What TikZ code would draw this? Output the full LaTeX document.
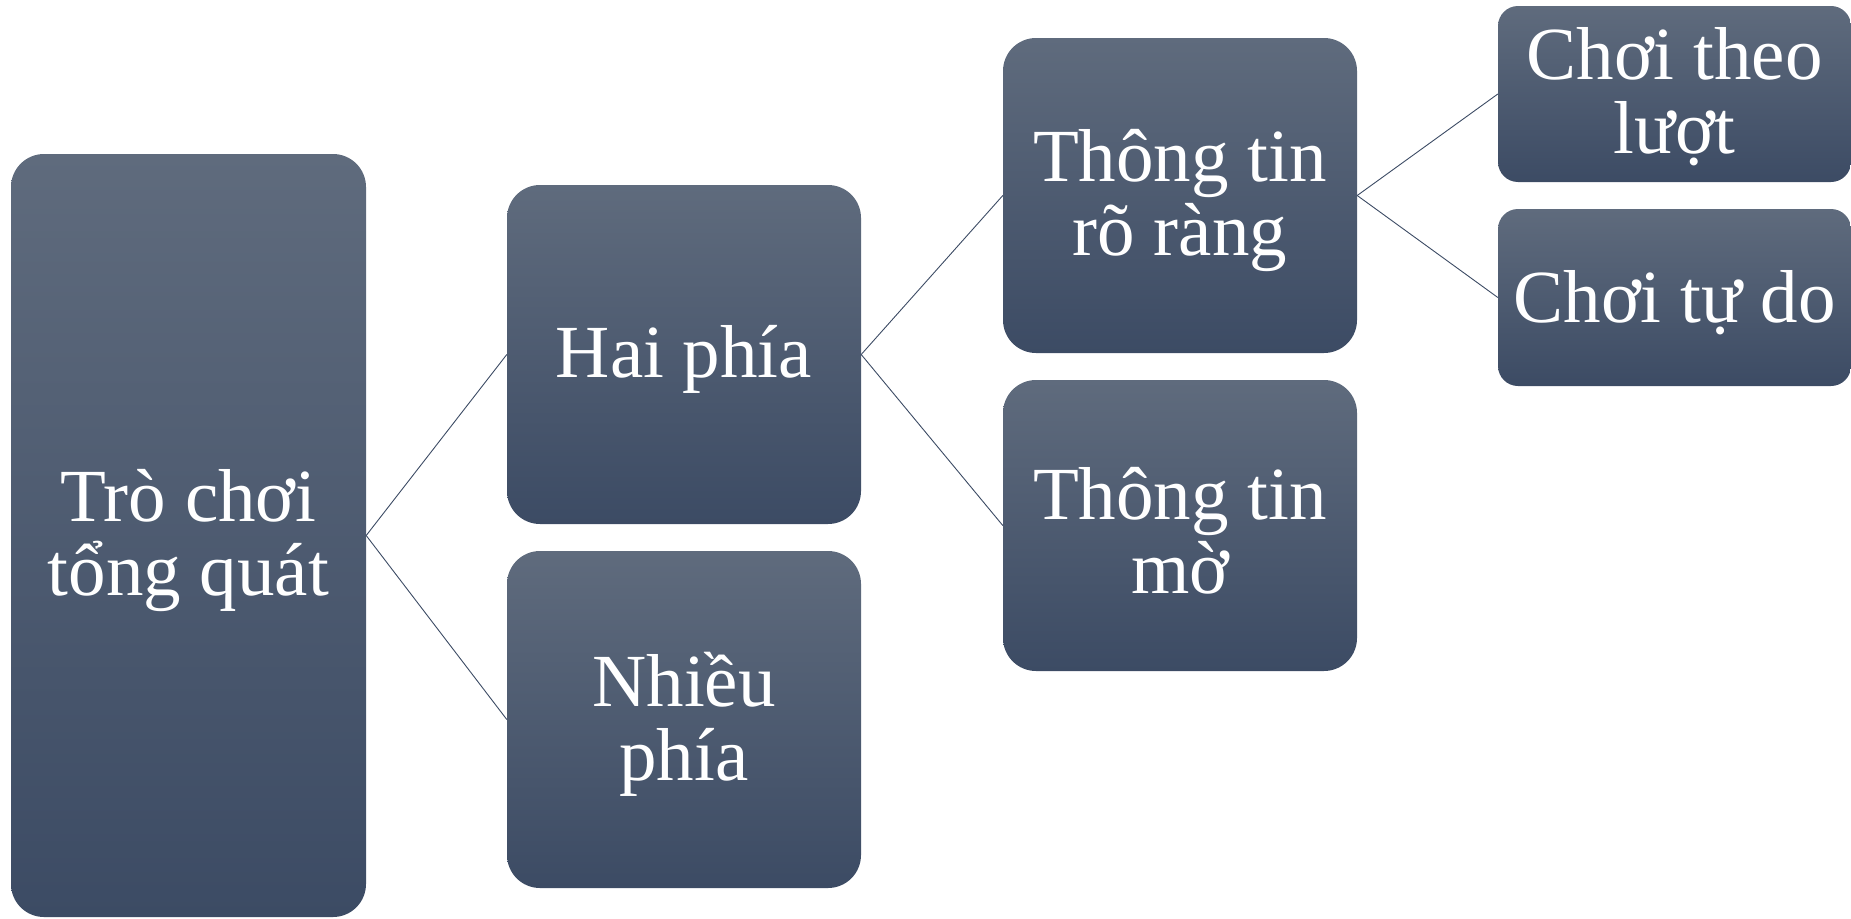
\documentclass[tikz,border=0pt]{standalone}
\usepackage{fontspec}
\setmainfont{Liberation Serif}
\definecolor{boxtop}{HTML}{5F6B7D}
\definecolor{boxbot}{HTML}{3C4B64}
\definecolor{linec}{HTML}{3C4B64}
\begin{document}
\begin{tikzpicture}[x=1pt,y=-1pt,
  gbox/.style={rectangle, rounded corners=33pt, top color=boxtop, bottom color=boxbot,
    draw=none, inner sep=0pt},
  sbox/.style={gbox, rounded corners=20pt},
  txt/.style={text=white, align=center, inner sep=0pt, yshift=-5pt,
    font=\fontsize{75}{74}\selectfont},
  conn/.style={draw=linec, line width=0.9pt}]
\useasboundingbox (0,0) rectangle (1851,918);
\node[gbox, minimum width=355pt, minimum height=763pt, label={[txt]center:Trò chơi\\tổng quát}] (b1) at (188.5,535.5) {};
\node[gbox, minimum width=354pt, minimum height=339pt, label={[txt]center:Hai phía}] (b2) at (684,354.5) {};
\node[gbox, minimum width=354pt, minimum height=337pt, label={[txt]center:Nhiều\\phía}] (b3) at (684,719.5) {};
\node[gbox, minimum width=354pt, minimum height=315pt, label={[txt]center:Thông tin\\rõ ràng}] (b4) at (1180,195.5) {};
\node[gbox, minimum width=354pt, minimum height=291pt, label={[txt]center:Thông tin\\mờ}] (b5) at (1180,525.5) {};
\node[sbox, minimum width=353pt, minimum height=176pt, label={[txt,yshift=2pt]center:Chơi theo\\lượt}] (b6) at (1674.5,94) {};
\node[sbox, minimum width=353pt, minimum height=177pt, label={[txt]center:Chơi tự do}] (b7) at (1674.5,297.5) {};
\draw[conn] (b1.east) -- (b2.west);
\draw[conn] (b1.east) -- (b3.west);
\draw[conn] (b2.east) -- (b4.west);
\draw[conn] (b2.east) -- (b5.west);
\draw[conn] (b4.east) -- (b6.west);
\draw[conn] (b4.east) -- (b7.west);
\end{tikzpicture}
\end{document}
